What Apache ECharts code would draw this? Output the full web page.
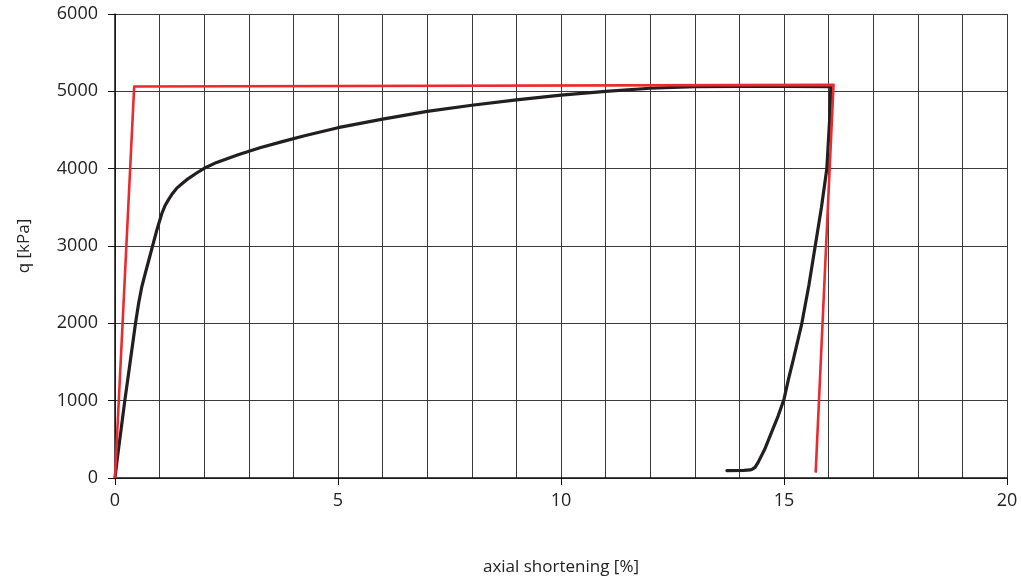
<!DOCTYPE html>
<html>
<head>
<meta charset="utf-8">
<script src="https://cdn.jsdelivr.net/npm/echarts@6/dist/echarts.min.js"></script>
<style>
  html, body { margin: 0; padding: 0; background: #fff; }
  #chart { width: 1021px; height: 581px; }
</style>
</head>
<body>
<div id="chart"></div>
<script>
// Measured curve: loading branch followed by unloading branch [axial shortening %, q kPa]
const measuredLoading = [
  [0, 0], [0.05, 245], [0.13, 600], [0.22, 1000], [0.34, 1500], [0.46, 2000],
  [0.53, 2260], [0.6, 2470], [0.68, 2650], [0.75, 2800], [0.84, 2995], [0.93, 3190],
  [1.05, 3420], [1.12, 3520], [1.2, 3600], [1.29, 3680], [1.38, 3745], [1.5, 3805],
  [1.61, 3858], [1.83, 3944], [2.0, 4005], [2.28, 4081], [2.76, 4180],
  [3.25, 4270], [3.75, 4350], [4.25, 4425], [5, 4530], [6, 4640], [7, 4740], [8, 4820],
  [9, 4890], [10, 4950], [11, 5000], [12, 5040], [13, 5060], [14, 5065], [15, 5065],
  [16.05, 5060]
];
const measuredUnloading = [
  [16.05, 5060], [16.03, 4700], [16.0, 4400], [15.96, 4000], [15.84, 3500],
  [15.70, 3000], [15.56, 2500], [15.40, 2000], [15.21, 1535], [15.10, 1277],
  [15.0, 1019], [14.87, 804], [14.72, 589], [14.57, 374], [14.42, 202],
  [14.35, 138], [14.29, 114], [14.24, 104], [14.1, 98], [13.72, 96]
];
// Idealised elastic-plastic model response
const modelCurve = [
  [0, 0], [0.43, 5062], [16.11, 5084], [15.71, 70]
];
const yTicks = [0, 1000, 2000, 3000, 4000, 5000, 6000];
const xTicks = [0, 5, 10, 15, 20];

const FONT = '"Open Sans", "Liberation Sans", sans-serif';
const gridColor = '#3a3a3a';

const chart = echarts.init(document.getElementById('chart'), null, { renderer: 'canvas' });
chart.setOption({
  animation: false,
  backgroundColor: '#ffffff',
  grid: { left: 115, right: 14, top: 14, bottom: 102, containLabel: false },
  xAxis: {
    type: 'value',
    min: xTicks[0],
    max: xTicks[xTicks.length - 1],
    interval: 5,
    name: 'axial shortening [%]',
    nameLocation: 'middle',
    nameGap: 81,
    nameTextStyle: { fontFamily: FONT, fontSize: 17, color: '#222' },
    axisLine: { show: true, onZero: false, lineStyle: { color: '#111', width: 1.5 } },
    axisTick: { show: true, inside: false, length: 7, lineStyle: { color: '#111' } },
    axisLabel: { fontFamily: FONT, fontSize: 18, color: '#222', margin: 14,
      formatter: v => String(v) },
    splitLine: { show: true, lineStyle: { color: gridColor, width: 1 } },
    minorTick: { show: true, splitNumber: 5, length: 0 },
    minorSplitLine: { show: true, lineStyle: { color: gridColor, width: 1 } }
  },
  yAxis: {
    type: 'value',
    min: yTicks[0],
    max: yTicks[yTicks.length - 1],
    interval: 1000,
    name: 'q [kPa]',
    nameLocation: 'middle',
    nameGap: 82,
    nameTextStyle: { fontFamily: FONT, fontSize: 17, color: '#222' },
    axisLine: { show: true, lineStyle: { color: '#111', width: 1.5 } },
    axisTick: { show: true, inside: false, length: 7, lineStyle: { color: '#111' } },
    axisLabel: { fontFamily: FONT, fontSize: 18, color: '#222', margin: 17,
      formatter: v => String(v) },
    splitLine: { show: true, lineStyle: { color: gridColor, width: 1 } }
  },
  series: [
    {
      name: 'measured',
      type: 'line',
      data: measuredLoading.concat(measuredUnloading.slice(1)),
      showSymbol: false,
      smooth: false,
      lineStyle: { color: '#231f20', width: 3.2, join: 'round', cap: 'round' },
      z: 3
    },
    {
      name: 'model',
      type: 'line',
      data: modelCurve,
      showSymbol: false,
      lineStyle: { color: '#ea2a2f', width: 2.6, join: 'round' },
      z: 4
    }
  ]
});
</script>
</body>
</html>
